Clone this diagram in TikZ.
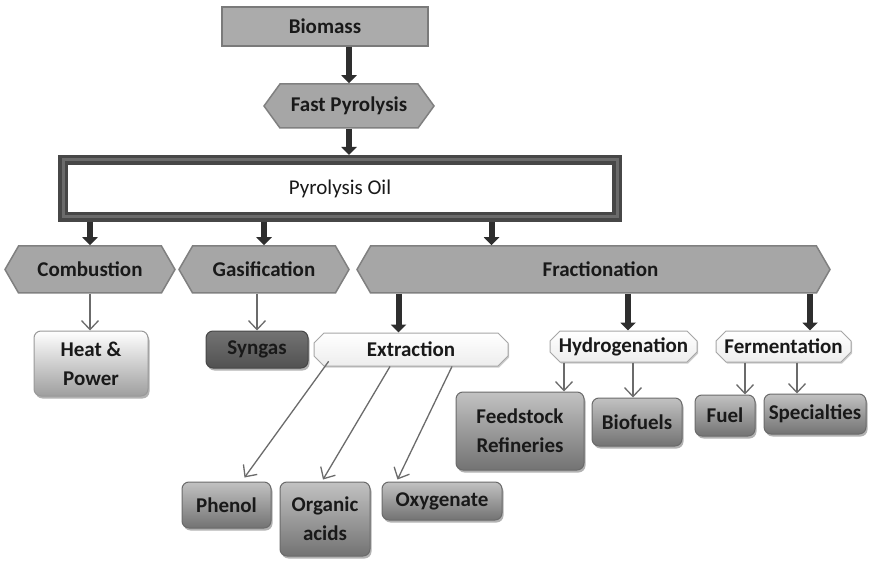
\documentclass[tikz,border=0pt]{standalone}
\usepackage{fontspec}
\setmainfont{Carlito}
\usetikzlibrary{shapes.symbols,shapes.misc,shadows,arrows.meta,calc}

\begin{document}
\begin{tikzpicture}[x=1pt,y=-1pt,
  every node/.style={font=\fontsize{21}{29}\selectfont\bfseries, text=black!90, inner sep=0pt, align=center},
  topbox/.style={rectangle, fill=black!33, draw=black!52, line width=1.5pt},
  hexa/.style={signal, signal to=west and east, signal pointer angle=#1,
    fill=black!35, draw=black!50, line width=1.5pt},
  hexa/.default=120,
  oilbox/.style={rectangle, fill=white, draw=black!72, double=black!58,
    double distance=3pt, line width=3.5pt, outer sep=5pt},
  graybox/.style={rectangle, rounded corners=7pt, top color=black!24, bottom color=black!55,
    draw=black!58, line width=1pt,
    drop shadow={shadow xshift=1.5pt, shadow yshift=-2.5pt, opacity=0.3, fill=black}},
  lightbox/.style={graybox, top color=white, bottom color=black!38, draw=black!40},
  darkbox/.style={graybox, top color=black!55, bottom color=black!68, draw=black!72},
  stagebox/.style={chamfered rectangle, chamfered rectangle xsep=5pt, chamfered rectangle ysep=5pt,
    top color=white, bottom color=black!7, draw=black!35, line width=1pt,
    drop shadow={shadow xshift=1pt, shadow yshift=-1.5pt, opacity=0.2, fill=black}},
  bigarrow/.style={draw=black!82, line width=6pt, -{Triangle[width=15pt,length=8pt]}},
  thinarrow/.style={draw=black!58, line width=1.3pt, -{Straight Barb[length=9pt,width=17pt]}}
]
\useasboundingbox[fill=white] (0,0) rectangle (870,561);

% main chain
\node[topbox, minimum width=206pt, minimum height=39pt] (bio) at (325,26.5) {Biomass};
\node[hexa=108, minimum width=170pt, minimum height=44pt] (fp) at (349,106) {Fast Pyrolysis};
\node[oilbox, minimum width=554pt, minimum height=57pt, font=\fontsize{21}{25}\selectfont] (oil) at (340,188.5) {Pyrolysis Oil};

% conversion routes
\node[hexa, minimum width=170pt, minimum height=47pt] (comb) at (90,269.5) {Combustion};
\node[hexa, minimum width=170pt, minimum height=47pt] (gas) at (264,269.5) {Gasification};
\node[hexa, minimum width=473pt, minimum height=47pt] (frac) at (593.5,269.5) {\hspace*{14pt}Fractionation};

% products and sub-processes
\node[lightbox, minimum width=114pt, minimum height=65pt] (heat) at (91,363.5) {Heat \&\\Power};
\node[darkbox, minimum width=102pt, minimum height=37pt] (syn) at (257,349.5) {Syngas};
\node[stagebox, minimum width=194pt, minimum height=33pt] (ext) at (411,349.5) {Extraction};
\node[stagebox, minimum width=147pt, minimum height=31pt] (hyd) at (623.5,346.5) {Hydrogenation};
\node[stagebox, minimum width=135pt, minimum height=31pt] (fer) at (783.5,346.5) {Fermentation};

\node[graybox, minimum width=89pt, minimum height=46pt] (phe) at (226.5,505) {Phenol};
\node[graybox, minimum width=90pt, minimum height=74pt] (org) at (325,519) {Organic\\acids};
\node[graybox, minimum width=120pt, minimum height=38pt] (oxy) at (442,501) {Oxygenate};
\node[graybox, minimum width=128pt, minimum height=78pt] (fsr) at (520,431) {Feedstock\\Refineries};
\node[graybox, minimum width=90pt, minimum height=48pt] (bfu) at (637,422) {Biofuels};
\node[graybox, minimum width=60pt, minimum height=41pt] (fue) at (725,415.5) {Fuel};
\node[graybox, minimum width=102pt, minimum height=40pt] (spe) at (815,414) {Specialties};

% heavy flow arrows
\draw[bigarrow] (fp.north |- bio.south) -- (fp.north);
\draw[bigarrow] (fp.south) -- (fp.south |- oil.north);
\draw[bigarrow] (comb.north |- oil.south) -- (comb.north);
\draw[bigarrow] (gas.north |- oil.south) -- (gas.north);
\draw[bigarrow] ([xshift=-102pt]frac.north |- oil.south) -- ([xshift=-102pt]frac.north);
\draw[bigarrow] ([xshift=-195pt]frac.south) -- ([xshift=-195pt]frac.south |- ext.north);
\draw[bigarrow] ([xshift=34.5pt]frac.south) -- ([xshift=34.5pt]frac.south |- hyd.north);
\draw[bigarrow] ([xshift=216.5pt]frac.south) -- ([xshift=216.5pt]frac.south |- fer.north);

% light product arrows
\draw[thinarrow] (comb.south) -- (comb.south |- heat.north);
\draw[thinarrow] (syn.north |- gas.south) -- (syn.north);
\draw[thinarrow] ([xshift=10pt]ext.south west) -- ([xshift=18pt,yshift=4pt]phe.north);
\draw[thinarrow] ([xshift=-21pt]ext.south) -- ([xshift=-2pt,yshift=2pt]org.north);
\draw[thinarrow] ([xshift=41pt]ext.south) -- ([xshift=16pt,yshift=2pt]oxy.north west);
\draw[thinarrow] ([xshift=-59.5pt]hyd.south) -- ([xshift=-59.5pt]hyd.south |- fsr.north);
\draw[thinarrow] ([xshift=9.5pt]hyd.south) -- ([xshift=9.5pt]hyd.south |- bfu.north);
\draw[thinarrow] ([xshift=-38.5pt]fer.south) -- ([xshift=-38.5pt]fer.south |- fue.north);
\draw[thinarrow] ([xshift=13.5pt]fer.south) -- ([xshift=13.5pt]fer.south |- spe.north);
\end{tikzpicture}
\end{document}
